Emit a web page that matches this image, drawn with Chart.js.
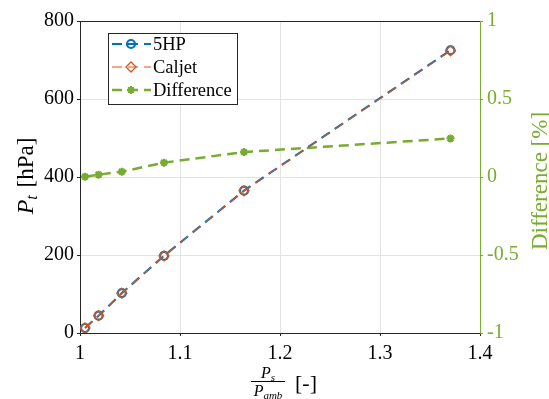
<!DOCTYPE html>
<html><head><meta charset="utf-8">
<script src="https://cdn.jsdelivr.net/npm/chart.js@4/dist/chart.umd.min.js"></script>
<style>html,body{margin:0;padding:0;background:#fff}#wrap{width:549px;height:399px}</style>
</head><body><div id="wrap"><canvas id="c" width="549" height="399"></canvas></div>
<script>
const ratio = [1.005, 1.0186, 1.0418, 1.084, 1.164, 1.3705];
const pt5HP = [12.8, 44.3, 102.3, 197.9, 365, 725];
const ptCaljet = [12.9, 44.4, 102.2, 197.6, 364.6, 723.8];
const diffPct = [0.002, 0.015, 0.034, 0.092, 0.16, 0.247];
const xTickLabels = ['1', '1.1', '1.2', '1.3', '1.4'];
const yTickLabels = ['0', '200', '400', '600', '800'];
const y2TickLabels = ['-1', '-0.5', '0', '0.5', '1'];
const seriesNames = ['5HP', 'Caljet', 'Difference'];

const BLUE = '#0072BD', ORANGE = '#D95319', GREEN = '#77AC30';
const FONT = "'Liberation Serif', serif";
Chart.defaults.font.family = FONT;
const pts = (xs, ys) => xs.map((x, i) => ({x: x, y: ys[i]}));

const overlay = {
  id: 'overlay',
  afterDraw(chart) {
    const ctx = chart.ctx, a = chart.chartArea;
    ctx.save();
    ctx.strokeStyle = '#262626'; ctx.lineWidth = 1;
    ctx.beginPath(); ctx.moveTo(a.left, a.top + 0.5); ctx.lineTo(a.right, a.top + 0.5); ctx.stroke();
    // Y title
    ctx.save();
    ctx.translate(27, 176); ctx.rotate(-Math.PI / 2);
    ctx.fillStyle = '#000'; ctx.textBaseline = 'middle'; ctx.textAlign = 'left';
    ctx.font = 'italic 24px ' + FONT;
    const wP = ctx.measureText('P').width;
    ctx.font = 'italic 16px ' + FONT;
    const wt = ctx.measureText('t').width;
    ctx.font = '23px ' + FONT;
    const wr = ctx.measureText(' [hPa]').width;
    let x0 = -(wP + wt + wr + 2) / 2;
    ctx.font = 'italic 24px ' + FONT; ctx.fillText('P', x0, 0);
    ctx.font = 'italic 16px ' + FONT; ctx.fillText('t', x0 + wP, 6);
    ctx.font = '23px ' + FONT; ctx.fillText(' [hPa]', x0 + wP + wt + 2, 0);
    ctx.restore();
    // Right title
    ctx.save();
    ctx.translate(541, 181); ctx.rotate(-Math.PI / 2);
    ctx.fillStyle = GREEN; ctx.textAlign = 'center'; ctx.textBaseline = 'middle';
    ctx.font = '23px ' + FONT;
    ctx.fillText('Difference [%]', 0, 0);
    ctx.restore();
    // X title
    ctx.fillStyle = '#000'; ctx.textBaseline = 'alphabetic'; ctx.textAlign = 'left';
    const cx = 268;
    ctx.font = 'italic 16px ' + FONT;
    const wPs = ctx.measureText('P').width;
    ctx.font = 'italic 11px ' + FONT;
    const ws = ctx.measureText('s').width, wamb = ctx.measureText('amb').width;
    let nx = cx - (wPs + ws) / 2;
    ctx.font = 'italic 16px ' + FONT; ctx.fillText('P', nx, 378);
    ctx.font = 'italic 11px ' + FONT; ctx.fillText('s', nx + wPs, 381);
    let dx = cx - (wPs + wamb) / 2;
    ctx.font = 'italic 16px ' + FONT; ctx.fillText('P', dx, 396);
    ctx.font = 'italic 11px ' + FONT; ctx.fillText('amb', dx + wPs, 399);
    ctx.fillRect(cx - 17, 381, 34, 1);
    ctx.font = '22px ' + FONT; ctx.fillText('[-]', 295, 390);
    // Legend
    const lx = 108, ly = 33, lw = 129, lh = 71;
    ctx.fillStyle = '#fff'; ctx.fillRect(lx, ly, lw, lh);
    ctx.strokeStyle = '#262626'; ctx.lineWidth = 1;
    ctx.strokeRect(lx + 0.5, ly + 0.5, lw, lh);
    const rows = [44, 67, 90];
    const dsets = chart.data.datasets;
    rows.forEach((ry, i) => {
      const d = dsets[i];
      ctx.save();
      ctx.strokeStyle = d.borderColor; ctx.lineWidth = d.borderWidth;
      ctx.setLineDash(d.borderDash);
      ctx.beginPath(); ctx.moveTo(112, ry); ctx.lineTo(151, ry); ctx.stroke();
      ctx.setLineDash([]);
      ctx.strokeStyle = d.pointBorderColor; ctx.fillStyle = d.pointBackgroundColor;
      ctx.lineWidth = d.pointBorderWidth;
      Chart.helpers.drawPoint(ctx, {pointStyle: d.pointStyle, radius: d.pointRadius, borderWidth: d.pointBorderWidth, rotation: 0}, 131, ry);
      ctx.restore();
      ctx.fillStyle = '#000'; ctx.font = '18.5px ' + FONT; ctx.textBaseline = 'middle'; ctx.textAlign = 'left';
      ctx.fillText(seriesNames[i], 153, ry + 1);
    });
    ctx.restore();
  }
};

new Chart(document.getElementById('c'), {
  type: 'line',
  data: {
    datasets: [
      {label: seriesNames[0], order: 2, data: pts(ratio, pt5HP), yAxisID: 'y', borderColor: BLUE, backgroundColor: 'rgba(0,0,0,0)',
       borderWidth: 2.2, borderDash: [10, 6], pointStyle: 'circle', pointRadius: 4, pointBorderWidth: 2.2,
       pointBorderColor: BLUE, pointBackgroundColor: 'rgba(0,0,0,0)', tension: 0},
      {label: seriesNames[1], order: 1, data: pts(ratio, ptCaljet), yAxisID: 'y', borderColor: ORANGE, backgroundColor: 'rgba(0,0,0,0)',
       borderWidth: 1.1, borderDash: [10, 6], pointStyle: 'rectRot', pointRadius: 5, pointBorderWidth: 1.3,
       pointBorderColor: ORANGE, pointBackgroundColor: 'rgba(0,0,0,0)', tension: 0},
      {label: seriesNames[2], order: 3, data: pts(ratio, diffPct), yAxisID: 'y2', borderColor: GREEN, backgroundColor: 'rgba(0,0,0,0)',
       borderWidth: 2.5, borderDash: [10, 6], pointStyle: 'star', pointRadius: 4, pointBorderWidth: 2.2,
       pointBorderColor: GREEN, pointBackgroundColor: GREEN, tension: 0}
    ]
  },
  options: {
    responsive: false, animation: false, devicePixelRatio: 1,
    layout: {padding: {top: 21, left: 0, right: 0, bottom: 0}},
    plugins: {legend: {display: false}, tooltip: {enabled: false}},
    scales: {
      x: {type: 'linear', min: 1, max: 1.4,
          afterBuildTicks: s => { s.ticks = xTickLabels.map(v => ({value: parseFloat(v)})); },
          afterFit: s => { s.height = 66; },
          grid: {color: '#e3e3e3', drawTicks: true, tickLength: 3, tickColor: '#262626'},
          border: {color: '#262626', width: 1},
          ticks: {padding: 6, color: '#000', font: {family: FONT, size: 20},
                  callback: (v, i) => xTickLabels[i]}},
      y: {type: 'linear', position: 'left', min: 0, max: 800,
          afterBuildTicks: s => { s.ticks = yTickLabels.map(v => ({value: parseFloat(v)})); },
          afterFit: s => { s.width = 80; },
          grid: {color: '#e3e3e3', drawTicks: true, tickLength: 3, tickColor: '#262626'},
          border: {color: '#262626', width: 1},
          ticks: {padding: 3, color: '#000', font: {family: FONT, size: 20},
                  callback: (v, i) => yTickLabels[i]}},
      y2: {type: 'linear', position: 'right', min: -1, max: 1,
          afterBuildTicks: s => { s.ticks = y2TickLabels.map(v => ({value: parseFloat(v)})); },
          afterFit: s => { s.width = 69; },
          grid: {drawOnChartArea: false, drawTicks: true, tickLength: 3, tickColor: GREEN, color: GREEN},
          border: {color: GREEN, width: 1},
          ticks: {padding: 4, color: GREEN, font: {family: FONT, size: 20},
                  callback: (v, i) => y2TickLabels[i]}}
    }
  },
  plugins: [overlay]
});
</script></body></html>
